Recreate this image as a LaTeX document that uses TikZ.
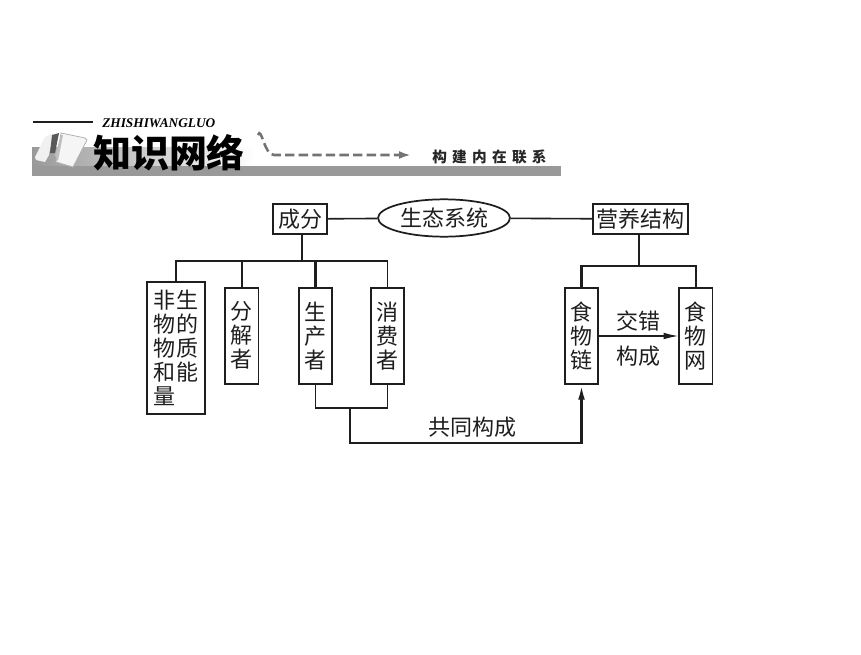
\documentclass[tikz,border=0pt]{standalone}
\usepackage{fontspec}
\setmainfont{Liberation Serif}
\newfontfamily\cjk{Noto Sans CJK SC}
\newfontfamily\cjkwide{Noto Sans CJK SC}[LetterSpace=36]
\usetikzlibrary{shapes.geometric, arrows.meta, positioning, calc}
\definecolor{bandgray}{HTML}{999999}
\definecolor{inkgray}{HTML}{1E1E1E}

\begin{document}
\begin{tikzpicture}[
        x=0.75pt, y=-0.75pt,
        box/.style={rectangle, draw=inkgray, line width=1.3pt, inner sep=0pt, align=center, text=inkgray, font=\cjk\fontsize{16.5}{18}\selectfont},
        tallbox/.style={box, minimum width=25pt, minimum height=72pt},
        link/.style={draw=inkgray, line width=1.2pt},
        arrow/.style={link, -{Latex[length=11pt, width=5pt]}},
        label/.style={text=inkgray, font=\cjk\fontsize{16.5}{18}\selectfont, inner sep=0pt}
    ]
    \useasboundingbox (0,0) rectangle (861,654);

    % Header band
    \shade[left color=bandgray, right color=white] (32,147) rectangle (255,166);
    \fill[bandgray] (32,166) rectangle (561,176);
    \draw[inkgray, line width=1.4pt] (33,122) -- (93,122);
    \node[anchor=west, inner sep=0pt, font=\bfseries\itshape\fontsize{10}{12}\selectfont] (pinyin) at (102,123) {ZHISHIWANGLUO};

    % Book icon
    \fill[black!6] (35,157) -- (45,137) -- (53,133) -- (49,155) -- (45,162) -- (36,160) -- cycle;
    \fill[black!65] (52,135) -- (59,133) -- (55,153) -- (50,153) -- cycle;
    \fill[black!4, draw=black!30, line width=0.6pt] (61,133) -- (85,138) -- (87,140) -- (73,167) -- (56,162) -- cycle;
    \fill[black!25] (55,155) -- (61,135) -- (63,135) -- (58,161) -- cycle;

    \node[inner sep=0pt, text=black, font=\cjk\bfseries\fontsize{28.5}{30}\selectfont] (title) at (169,153) {知识网络};

    % Dashed lead-in to the subtitle
    \node[inner sep=0pt, text=black!85, font=\cjkwide\bfseries\fontsize{11}{12}\selectfont, anchor=west] (subtitle) at (432,157) {构建内在联系};
    \coordinate (leadstart) at (258,135);
    \coordinate (leadbend) at (274,155);
    \draw[black!55, line width=1.9pt, dash pattern=on 7pt off 3.2pt, -{Latex[length=9pt, width=6pt]}] (leadstart) to[out=70, in=180] (leadbend) -- (411,155);

    % Nodes
    \node[ellipse, draw=inkgray, line width=1.3pt, minimum width=99pt, minimum height=28pt, inner sep=0pt, text=inkgray, font=\cjk\fontsize{16.5}{18}\selectfont] (system) at (444,218) {生态系统};
    \node[box, minimum width=40pt, minimum height=22pt] (parts) at (300,219) {成分};
    \node[box, minimum width=71pt, minimum height=22pt] (structure) at (640.5,219) {营养结构};

    \node[tallbox, minimum width=43pt, minimum height=99pt, line width=1.6pt] (abiotic) at (176,348) {非\kern1.5pt 生\\物\kern1.5pt 的\\物\kern1.5pt 质\\和\kern1.5pt 能\\量\kern18pt\null};
    \node[tallbox, right=14pt of abiotic.north east, anchor=north west, yshift=-4.5pt] (decomposer) {分\\解\\者};
    \node[tallbox, right=29pt of decomposer] (producer) {生\\产\\者};
    \node[tallbox, right=27.5pt of producer] (consumer) {消\\费\\者};

    \node[tallbox] (chain) at (581.5,336) {食\\物\\链};
    \node[tallbox, right=59.5pt of chain] (web) {食\\物\\网};

    \coordinate (leftbus) at (302,261);
    \coordinate (rightbus) at (639,266);
    \coordinate (joinup) at (350,408);
    \coordinate (joindown) at (350,443);

    % Arrows
    \draw[link] (parts) -- (system);
    \draw[link] (system) -- (structure);

    \draw[link] (parts.south -| leftbus) -- (leftbus);
    \draw[link] (abiotic.north) |- (leftbus) -| (consumer.north);
    \draw[link] (decomposer.north) -- (decomposer.north |- leftbus);
    \draw[link, line width=1.8pt] (producer.north) -- (producer.north |- leftbus);

    \draw[link] (producer.south) |- (joinup) -| (consumer.south);
    \draw[arrow, line width=1.8pt] (joinup) -- (joindown) -| node[pos=0.265, above=3pt, label] (together) {共同构成} (chain.south);

    \draw[link] (structure.south -| rightbus) -- (rightbus);
    \draw[link, line width=1.8pt] (chain.north) |- (rightbus);
    \draw[link] (rightbus) -| (web.north);

    \draw[arrow, line width=1pt] (chain) -- node[above=3pt, label] (cross) {交错} node[below=7pt, label] (form) {构成} (web);
\end{tikzpicture}
\end{document}
